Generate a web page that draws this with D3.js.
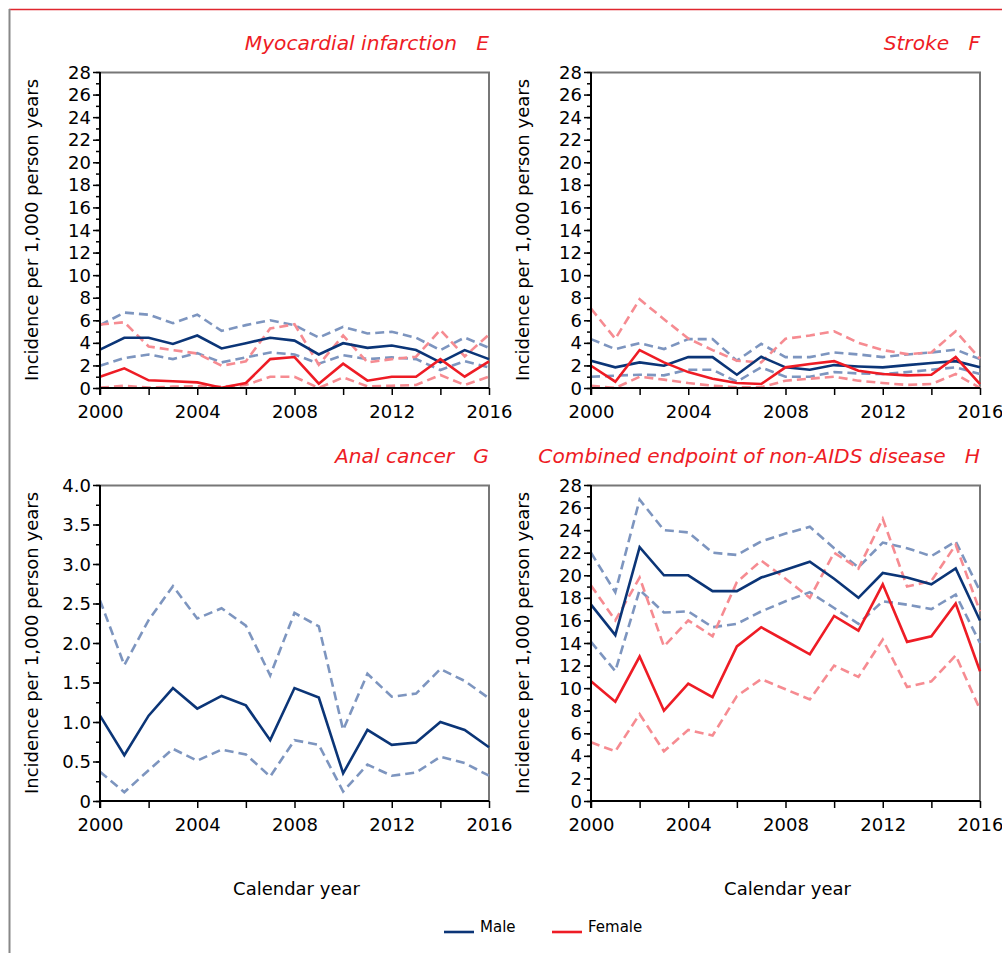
<!DOCTYPE html>
<html><head><meta charset="utf-8">
<script src="https://cdn.jsdelivr.net/npm/d3@7"></script>
<style>
body{margin:0;background:#fff;}
svg text{font-family:"DejaVu Sans",Verdana,sans-serif;}
</style></head><body>
<svg id="c" width="1002" height="953"></svg>
<script>
const years = d3.range(2000, 2017);

// E: Myocardial infarction
const miMale      = [3.4,4.45,4.45,3.9,4.65,3.5,3.97,4.45,4.2,2.97,3.97,3.56,3.77,3.36,2.27,3.36,2.56];
const miMaleUp    = [5.57,6.68,6.5,5.74,6.5,5.06,5.57,6.0,5.57,4.47,5.42,4.83,4.98,4.45,3.36,4.47,3.56];
const miMaleLo    = [1.97,2.65,2.97,2.56,3.09,2.27,2.71,3.15,2.97,2.15,2.91,2.56,2.71,2.56,1.59,2.38,1.83];
const miFemale    = [1.0,1.74,0.68,0.6,0.5,0.03,0.44,2.56,2.74,0.38,2.15,0.65,1.0,1.0,2.56,1.0,2.36];
const miFemaleUp  = [5.62,5.83,3.68,3.36,3.06,1.97,2.36,5.27,5.65,2.06,4.65,2.27,2.56,2.77,5.15,2.8,4.74];
const miFemaleLo  = [0.03,0.2,0.03,0.12,0.15,0.12,0.27,1.0,1.0,0.0,0.94,0.15,0.2,0.27,1.15,0.27,1.0];

// F: Stroke
const stMale      = [2.42,1.83,2.27,1.97,2.74,2.74,1.18,2.77,1.83,1.62,2.03,1.91,1.83,2.03,2.21,2.38,1.83];
const stMaleUp    = [4.33,3.45,3.97,3.45,4.33,4.33,2.42,3.91,2.74,2.74,3.15,2.97,2.74,2.97,3.15,3.4,2.56];
const stMaleLo    = [1.0,1.09,1.18,1.12,1.62,1.62,0.56,1.83,1.0,1.0,1.41,1.29,1.24,1.41,1.62,1.83,1.24];
const stFemale    = [1.97,0.56,3.36,2.27,1.41,0.82,0.44,0.35,1.83,2.12,2.38,1.53,1.24,1.12,1.18,2.74,0.35];
const stFemaleUp  = [7.04,4.36,7.86,6.1,4.39,3.36,2.42,2.27,4.36,4.65,5.03,4.0,3.36,3.0,3.15,5.03,2.6];
const stFemaleLo  = [0.2,0.0,1.0,0.74,0.44,0.2,0.06,0.06,0.65,0.82,1.0,0.65,0.44,0.27,0.35,1.24,0.0];

// G: Anal cancer (male only)
const acMale      = [1.08,0.58,1.08,1.43,1.17,1.33,1.21,0.77,1.43,1.31,0.35,0.9,0.71,0.74,1.0,0.9,0.68];
const acMaleUp    = [2.54,1.72,2.29,2.72,2.31,2.44,2.22,1.59,2.38,2.21,0.9,1.61,1.32,1.36,1.67,1.52,1.3];
const acMaleLo    = [0.37,0.11,0.39,0.66,0.51,0.65,0.59,0.31,0.77,0.71,0.12,0.46,0.32,0.36,0.56,0.48,0.32];

// H: Combined endpoint of non-AIDS disease
const ceMale      = [17.4,14.7,22.5,20.0,20.0,18.6,18.6,19.8,20.5,21.2,19.7,18.0,20.2,19.8,19.2,20.6,16.0];
const ceMaleUp    = [22.0,18.5,26.7,24.0,23.8,22.0,21.8,23.0,23.7,24.3,22.4,20.7,22.9,22.4,21.7,23.0,18.6];
const ceMaleLo    = [14.1,11.5,18.7,16.7,16.8,15.4,15.7,16.8,17.7,18.5,17.1,15.7,17.7,17.4,17.0,18.3,14.0];
const ceFemale    = [10.6,8.8,12.8,8.0,10.4,9.2,13.7,15.4,14.2,13.0,16.4,15.1,19.2,14.1,14.6,17.5,11.5];
const ceFemaleUp  = [19.1,16.0,19.8,13.7,16.0,14.6,19.4,21.3,19.7,18.0,22.0,20.6,25.0,19.0,19.5,22.7,16.8];
const ceFemaleLo  = [5.2,4.4,7.7,4.4,6.3,5.8,9.3,10.8,9.9,9.0,12.0,11.0,14.3,10.1,10.6,12.9,8.1];

const xTickLabels = [2000, 2004, 2008, 2012, 2016];
const titles = ["Myocardial infarction   E", "Stroke   F", "Anal cancer   G", "Combined endpoint of non-AIDS disease   H"];
const yTitle = "Incidence per 1,000 person years";
const xTitle = "Calendar year";
const legendLabels = ["Male", "Female"];

const C = {male:"#0b3577", maleCI:"#7d95bf", female:"#ee1c25", femaleCI:"#f68b91"};

const svg = d3.select("#c");

// frame
svg.append("line").attr("x1",9).attr("x2",1002).attr("y1",9.5).attr("y2",9.5).attr("stroke","#e0262e").attr("stroke-width",1.5);
svg.append("line").attr("x1",9.5).attr("x2",9.5).attr("y1",9).attr("y2",953).attr("stroke","#888").attr("stroke-width",2);

const panels = [
  {x0:100, y0:72, title:titles[0], yMax:28, yStep:2, minor:1, fmt:d=>String(d),
    series:[[miMaleUp,"maleCI",1],[miMaleLo,"maleCI",1],[miFemaleUp,"femaleCI",1],[miFemaleLo,"femaleCI",1],[miMale,"male",0],[miFemale,"female",0]]},
  {x0:591, y0:72, title:titles[1], yMax:28, yStep:2, minor:1, fmt:d=>String(d),
    series:[[stMaleUp,"maleCI",1],[stMaleLo,"maleCI",1],[stFemaleUp,"femaleCI",1],[stFemaleLo,"femaleCI",1],[stMale,"male",0],[stFemale,"female",0]]},
  {x0:100, y0:485, title:titles[2], yMax:4, yStep:0.5, minor:0.25, fmt:d=>d===0?"0":d.toFixed(1),
    series:[[acMaleUp,"maleCI",1],[acMaleLo,"maleCI",1],[acMale,"male",0]]},
  {x0:591, y0:485, title:titles[3], yMax:28, yStep:2, minor:1, fmt:d=>String(d),
    series:[[ceMaleUp,"maleCI",1],[ceMaleLo,"maleCI",1],[ceFemaleUp,"femaleCI",1],[ceFemaleLo,"femaleCI",1],[ceMale,"male",0],[ceFemale,"female",0]]}
];
const W = 389, H = 316;

panels.forEach((p,i) => {
  const g = svg.append("g").attr("transform",`translate(${p.x0},${p.y0})`);
  const x = d3.scaleLinear().domain([2000,2016]).range([0,W]);
  const y = d3.scaleLinear().domain([0,p.yMax]).range([H,0]);

  // top/right box lines
  g.append("path").attr("d",`M0,0.5H${W}V${H}`).attr("fill","none").attr("stroke","#777").attr("stroke-width",2);

  // series
  const line = d3.line().x((d,j)=>x(years[j])).y(d=>y(d));
  p.series.forEach(([vals,col,dashed]) => {
    g.append("path").datum(vals).attr("d",line).attr("fill","none")
      .attr("stroke",C[col]).attr("stroke-width",2.6)
      .attr("stroke-linejoin","miter")
      .attr("stroke-dasharray",dashed?"9,5":null);
  });

  // y axis minor
  g.append("g").call(d3.axisLeft(y).tickValues(d3.range(0,p.yMax+1e-9,p.minor)).tickSize(4).tickFormat(""))
    .call(a=>a.select(".domain").remove())
    .selectAll("line").attr("stroke","#000").attr("stroke-width",1.5);
  // y axis major
  const ya = g.append("g").call(d3.axisLeft(y).tickValues(d3.range(0,p.yMax+1e-9,p.yStep)).tickSize(7).tickPadding(2).tickFormat(p.fmt));
  ya.select(".domain").attr("stroke","#000").attr("stroke-width",2).attr("d",`M0,${H+7}V0`);
  ya.selectAll("line").attr("stroke","#000").attr("stroke-width",1.5);
  ya.selectAll("text").attr("font-size",18).attr("fill","#000").attr("dy","0.34em");

  // x axis
  const xa = g.append("g").attr("transform",`translate(0,${H})`)
    .call(d3.axisBottom(x).tickValues(d3.range(2000,2017,2)).tickSize(7).tickPadding(10).tickFormat(d=>xTickLabels.includes(d)?String(d):""));
  xa.select(".domain").attr("stroke","#000").attr("stroke-width",2).attr("d",`M0,0H${W}`);
  xa.selectAll("line").attr("stroke","#000").attr("stroke-width",1.5);
  xa.selectAll("text").attr("font-size",18).attr("fill","#000");

  // title
  svg.append("text").attr("x",p.x0+W).attr("y",p.y0-22).attr("text-anchor","end")
    .attr("font-size",20.2).attr("font-style","italic").attr("fill","#ee1c25")
    .style("white-space","pre").text(p.title);

  // y title
  svg.append("text").attr("transform",`translate(${p.x0-62},${p.y0+H/2}) rotate(-90)`)
    .attr("text-anchor","middle").attr("font-size",18).attr("fill","#000").text(yTitle);

  if (i>=2) {
    svg.append("text").attr("x",p.x0+W/2+2).attr("y",895).attr("text-anchor","middle")
      .attr("font-size",18).attr("fill","#000").text(xTitle);
  }
});

// legend
const leg = [[444,C.male,legendLabels[0]],[552,C.female,legendLabels[1]]];
leg.forEach(([lx,col,lab]) => {
  svg.append("line").attr("x1",lx).attr("x2",lx+30).attr("y1",932).attr("y2",932).attr("stroke",col).attr("stroke-width",2.6);
  svg.append("text").attr("x",lx+36).attr("y",932).attr("font-size",15).attr("fill","#000").text(lab);
});
</script>
</body></html>
